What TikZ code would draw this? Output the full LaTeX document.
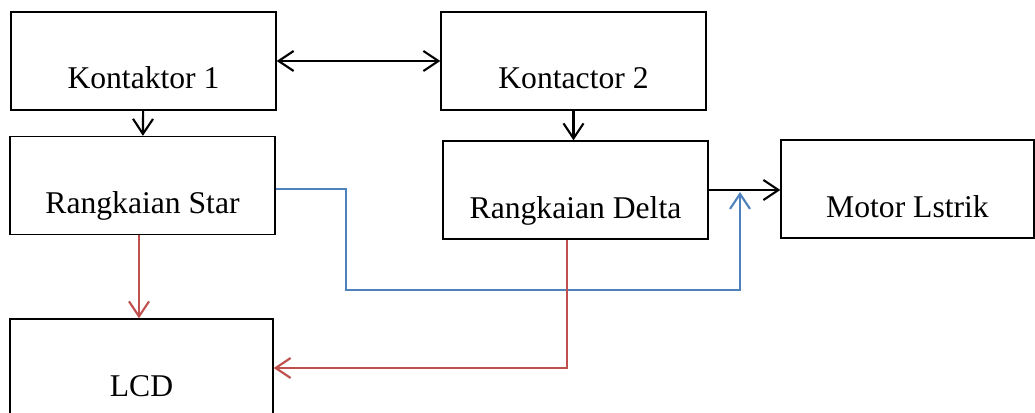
\documentclass[tikz,border=0pt]{standalone}
\usepackage{fontspec}
\setmainfont{Liberation Serif}
\usetikzlibrary{calc}
\usetikzlibrary{arrows.meta}
\definecolor{wireblue}{RGB}{79,129,189}
\definecolor{wirered}{RGB}{192,80,77}
\newcommand{\rowtop}{-1.22}
\tikzstyle{block}=[
  draw,
  line width=0.8pt,
  minimum width=5.3cm,
  minimum height=1.96cm,
  text height=1.12cm,
  text depth=0pt,
  font=\fontsize{18}{22}\selectfont
]
\tikzstyle{op}=[
  ->,
  >={Straight Barb[length=0.3cm,width=0.4cm,line width=1.2pt]},
  line width=1.2pt
]
\tikzstyle{blueop}=[op, wireblue]
\tikzstyle{redop}=[op, wirered]

\begin{document}
\begin{tikzpicture}
  \useasboundingbox (0,0) rectangle (20.7,-8.26);

  \node[block                      ] (k1)    at (2.87,  \rowtop) {Kontaktor 1};
  \node[block                      ] (k2)    at (11.47, \rowtop) {Kontactor 2};
  \node[block                      ] (star)  at (2.85,  -3.71)   {Rangkaian Star};
  \node[block                      ] (delta) at (11.51, -3.80)   {Rangkaian Delta};
  \node[block, minimum width=5.06cm] (motor) at (18.15, -3.78)   {Motor Lstrik};
  \node[block, minimum width=5.26cm] (lcd)   at (2.83,  -7.36)   {LCD};

  \coordinate (join) at (14.8, -3.84);

  \draw[op, <->] (k1) -- (k2);
  \draw[op] (k1) -- (star);
  \draw[op] (k2.south) -- (k2.south |- delta.north);
  \draw[op] (delta.east) -- (delta.east -| motor.west);

  \draw[blueop] ([yshift=-0.07cm]star.east) -- ++(1.4,0) -- ++(0,-2.02) -| (join);
  \draw[redop] ([xshift=-0.7mm]star.south) -- ([xshift=-0.7mm]star.south |- lcd.north);
  \draw[redop] ([xshift=-1.7mm]delta.south) |- (lcd.east);
\end{tikzpicture}
\end{document}
